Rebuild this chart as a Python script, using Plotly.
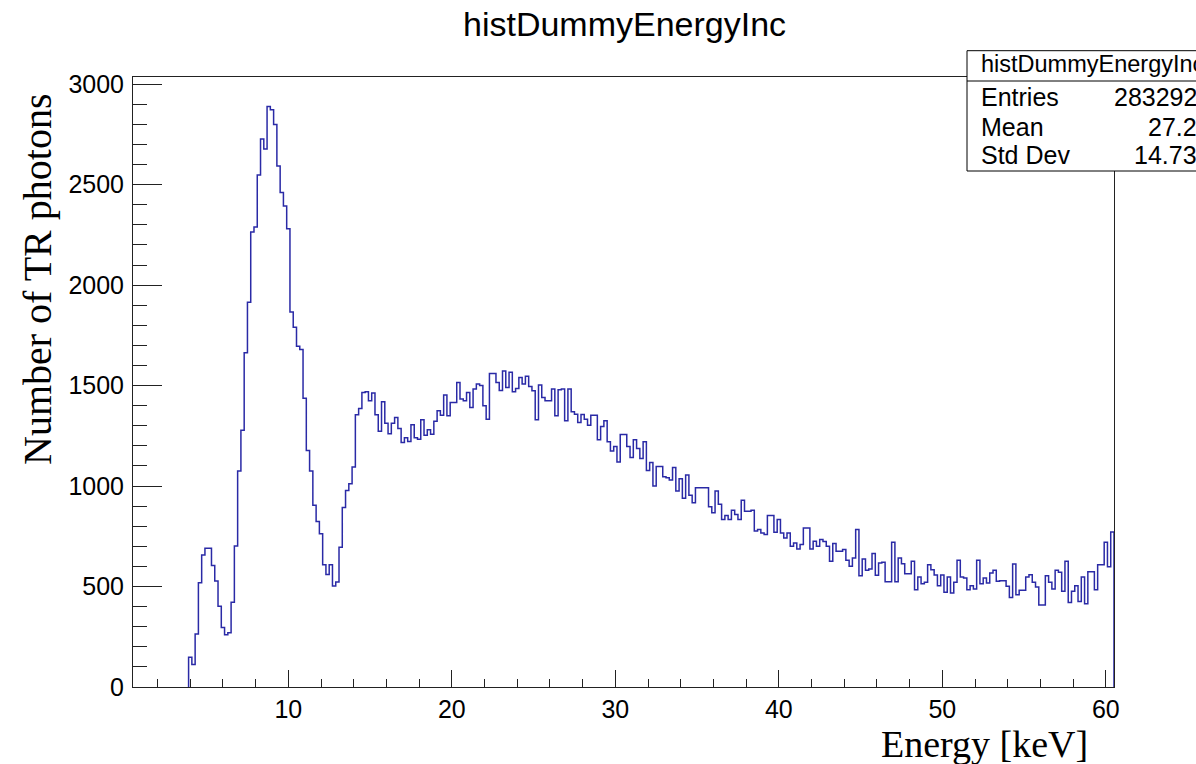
import plotly.graph_objects as go

# ---------------- data ----------------
hist_title = "histDummyEnergyInc"
x_title = "Energy [keV]"
y_title = "Number of TR photons"
bin_low = 0.5
bin_width = 0.2
n_bins = 300
n_empty_leading = 17  # bins 0.5 .. 3.9 keV are empty

counts_3p9_to_13p3 = [148, 112, 264, 519, 657, 690, 690, 605, 528, 402,
                      296, 260, 270, 422, 702, 1075, 1278, 1664, 1915, 2264,
                      2289, 2548, 2727, 2678, 2889, 2873, 2800, 2593, 2461, 2394,
                      2281, 1867, 1790, 1696, 1680, 1437, 1177, 1075, 905, 824,
                      763, 609, 560, 609, 503, 523, 696, 893]
counts_13p5_to_19p3 = [978, 1012, 1095, 1355, 1386, 1466, 1469, 1425, 1463, 1355,
                       1273, 1420, 1313, 1260, 1313, 1341, 1286, 1217, 1241, 1222,
                       1305, 1241, 1233, 1330, 1253, 1280, 1258, 1323, 1375, 1353]
counts_19p5_to_25p3 = [1453, 1350, 1416, 1416, 1516, 1433, 1425, 1466, 1391, 1483,
                       1508, 1500, 1400, 1333, 1560, 1560, 1516, 1476, 1573, 1491,
                       1566, 1470, 1486, 1541, 1508, 1546, 1496, 1474, 1330, 1503]
counts_25p5_to_31p3 = [1441, 1425, 1425, 1483, 1350, 1480, 1483, 1325, 1483, 1370,
                       1358, 1316, 1356, 1333, 1303, 1353, 1353, 1230, 1297, 1325,
                       1220, 1175, 1197, 1120, 1257, 1257, 1197, 1142, 1230, 1187]
counts_31p5_to_37p3 = [1137, 1220, 1077, 1117, 1000, 1097, 1097, 1047, 1042, 1030,
                       1093, 975, 1037, 939, 1055, 954, 917, 992, 992, 992,
                       992, 897, 867, 975, 909, 834, 854, 834, 880, 859]
counts_37p5_to_43p3 = [834, 930, 875, 875, 880, 776, 784, 767, 759, 854,
                       854, 770, 834, 767, 742, 767, 701, 717, 687, 709,
                       791, 791, 687, 726, 701, 734, 724, 701, 626, 714]
counts_43p5_to_49p3 = [676, 676, 684, 631, 601, 642, 784, 554, 637, 581,
                       587, 664, 556, 617, 621, 524, 524, 721, 524, 642,
                       614, 564, 564, 626, 484, 548, 514, 521, 608, 584]
counts_49p5_to_55p3 = [558, 504, 558, 471, 548, 468, 521, 631, 548, 543,
                       484, 504, 488, 631, 514, 543, 518, 568, 581, 526,
                       529, 529, 501, 446, 612, 459, 481, 481, 548, 559]
counts_55p5_to_60p3 = [521, 498, 408, 408, 554, 521, 488, 581, 571, 476,
                       626, 421, 476, 504, 426, 548, 414, 574, 574, 484,
                       609, 609, 721, 598, 771]

stats_labels = ["Entries", "Mean", "Std Dev"]
stats_values = ["283292", "27.2", "14.73"]

x_major_ticks = [10, 20, 30, 40, 50, 60]
y_major_ticks = [0, 500, 1000, 1500, 2000, 2500, 3000]

# ---------------- build ----------------
counts = ([0] * n_empty_leading + counts_3p9_to_13p3 + counts_13p5_to_19p3 +
          counts_19p5_to_25p3 + counts_25p5_to_31p3 + counts_31p5_to_37p3 +
          counts_37p5_to_43p3 + counts_43p5_to_49p3 + counts_49p5_to_55p3 +
          counts_55p5_to_60p3)
edges = [bin_low + i * bin_width for i in range(n_bins + 1)]
x_hi = edges[-1]

first = next(i for i, c in enumerate(counts) if c > 0)
xs = [edges[first]] + edges[first:n_bins] + [edges[n_bins], edges[n_bins]]
ys = [0] + counts[first:] + [counts[-1], 0]

W, H = 1196, 764
PL, PR, PT, PB = 133, 1114, 77, 687


def px_x(px):
    return (px - PL) / (PR - PL)


def px_y(py):
    return (PB - py) / (PB - PT)


fig = go.Figure()
fig.add_trace(go.Scatter(x=xs, y=ys, mode="lines", line_shape="hv",
                         line=dict(color="#2a2aa6", width=1.5),
                         cliponaxis=False, hoverinfo="skip", showlegend=False))

axis_common = dict(showline=True, linecolor="#222222", linewidth=1, mirror=True,
                   showgrid=False, zeroline=False, ticks="inside",
                   tickcolor="#222222", tickwidth=1,
                   tickfont=dict(family="Liberation Sans", size=25, color="black"))

fig.update_xaxes(range=[bin_low, x_hi], tickvals=x_major_ticks, ticklen=17,
                 minor=dict(ticks="inside", ticklen=8, dtick=2, tick0=0,
                            tickcolor="#222222", tickwidth=1),
                 **axis_common)
fig.update_yaxes(range=[0, 3036], tickvals=y_major_ticks, ticklen=29,
                 ticklabelstandoff=3,
                 minor=dict(ticks="inside", ticklen=14, dtick=100, tick0=0,
                            tickcolor="#222222", tickwidth=1),
                 **axis_common)

shapes = [
    dict(type="rect", xref="paper", yref="paper",
         x0=px_x(967), x1=px_x(1230), y0=px_y(171), y1=px_y(50.7),
         line=dict(color="black", width=1), fillcolor="white", layer="above"),
    dict(type="line", xref="paper", yref="paper",
         x0=px_x(967), x1=px_x(1230), y0=px_y(81), y1=px_y(81),
         line=dict(color="black", width=1), layer="above"),
]

annotations = [
    dict(text=hist_title, x=px_x(624), y=px_y(24), xref="paper", yref="paper",
         xanchor="center", yanchor="middle", showarrow=False,
         font=dict(family="Liberation Sans", size=34, color="black")),
    dict(text=y_title, x=px_x(37), y=px_y(280), xref="paper", yref="paper",
         xanchor="center", yanchor="middle", showarrow=False, textangle=-90,
         font=dict(family="Liberation Serif", size=40, color="black")),
    dict(text=x_title, x=px_x(1090), y=px_y(744), xref="paper", yref="paper",
         xanchor="right", yanchor="middle", showarrow=False,
         font=dict(family="Liberation Serif", size=38, color="black")),
    dict(text=hist_title, x=px_x(979), y=px_y(64), xref="paper", yref="paper",
         xanchor="left", yanchor="middle", showarrow=False,
         font=dict(family="Liberation Sans", size=23.5, color="black")),
]
row_centers = [96.5, 126.5, 154.8]
for lab, val, cy in zip(stats_labels, stats_values, row_centers):
    annotations.append(dict(text=lab, x=px_x(979), y=px_y(cy), xref="paper", yref="paper",
                            xanchor="left", yanchor="middle", showarrow=False,
                            font=dict(family="Liberation Sans", size=25, color="black")))
    annotations.append(dict(text=val, x=px_x(1199), y=px_y(cy), xref="paper", yref="paper",
                            xanchor="right", yanchor="middle", showarrow=False,
                            font=dict(family="Liberation Sans", size=25, color="black")))

fig.update_layout(width=W, height=H, autosize=False,
                  margin=dict(l=PL, r=W - PR, t=PT, b=H - PB, pad=0),
                  plot_bgcolor="white", paper_bgcolor="white",
                  shapes=shapes, annotations=annotations, showlegend=False)

fig.write_html("out.html", config={"displayModeBar": False},
               post_script="document.body.style.margin='0';")
